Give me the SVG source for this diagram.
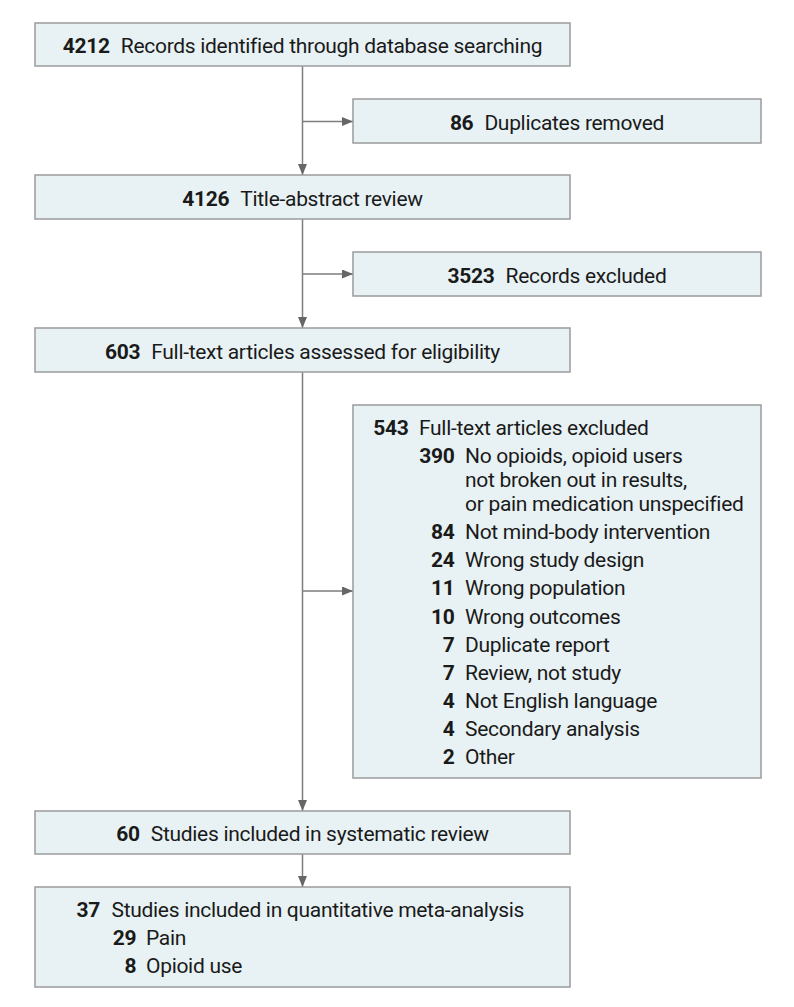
<svg xmlns="http://www.w3.org/2000/svg" width="794" height="1007" viewBox="0 0 794 1007">
<defs>
<style>
.box{fill:#e8f2f4;stroke:#9b9b9b;stroke-width:1.5}
.t{font-family:Roboto,"Liberation Sans",sans-serif;font-size:21px;letter-spacing:-0.3px;fill:#1a1a1a}
.b{font-weight:bold}
.c{stroke:#7d7d7d;stroke-width:1.5;fill:none;marker-end:url(#ah)}
</style>
<marker id="ah" markerUnits="userSpaceOnUse" markerWidth="12" markerHeight="10" refX="11" refY="4.5" orient="auto">
<path d="M0,0 L11,4.5 L0,9 z" fill="#666"/>
</marker>
</defs>
<rect width="794" height="1007" fill="#fff"/>
<g id="connectors">
<path class="c" d="M302.5,66 V175"/>
<path class="c" d="M302.5,121.5 H353"/>
<path class="c" d="M302.5,219 V328"/>
<path class="c" d="M302.5,274 H353"/>
<path class="c" d="M302.5,372 V811"/>
<path class="c" d="M302.5,591 H353"/>
<path class="c" d="M302.5,854 V887"/>
</g>
<g id="n1">
<rect class="box" x="35" y="23" width="535" height="43"/>
<text class="t" x="302.5" y="53" text-anchor="middle"><tspan class="b">4212</tspan><tspan dx="11">Records identified through database searching</tspan></text>
</g>
<g id="n2">
<rect class="box" x="353" y="99" width="408" height="44"/>
<text class="t" x="557" y="129.5" text-anchor="middle"><tspan class="b">86</tspan><tspan dx="11">Duplicates removed</tspan></text>
</g>
<g id="n3">
<rect class="box" x="35" y="175" width="535" height="44"/>
<text class="t" x="302.5" y="205.5" text-anchor="middle"><tspan class="b">4126</tspan><tspan dx="11">Title-abstract review</tspan></text>
</g>
<g id="n4">
<rect class="box" x="353" y="252" width="408" height="44"/>
<text class="t" x="557" y="282.5" text-anchor="middle"><tspan class="b">3523</tspan><tspan dx="11">Records excluded</tspan></text>
</g>
<g id="n5">
<rect class="box" x="35" y="328" width="535" height="44"/>
<text class="t" x="302.5" y="358.5" text-anchor="middle"><tspan class="b">603</tspan><tspan dx="11">Full-text articles assessed for eligibility</tspan></text>
</g>
<g id="n6">
<rect class="box" x="353" y="405" width="408" height="373"/>
<text class="t b" x="408.5" y="434.5" text-anchor="end">543</text>
<text class="t" x="419" y="434.5">Full-text articles excluded</text>
<text class="t b" x="454.5" y="462.5" text-anchor="end">390</text>
<text class="t" x="465" y="462.5">No opioids, opioid users</text>
<text class="t" x="465" y="486.7">not broken out in results,</text>
<text class="t" x="465" y="511">or pain medication unspecified</text>
<text class="t b" x="454.5" y="539" text-anchor="end">84</text>
<text class="t" x="465" y="539">Not mind-body intervention</text>
<text class="t b" x="454.5" y="567" text-anchor="end">24</text>
<text class="t" x="465" y="567">Wrong study design</text>
<text class="t b" x="454.5" y="595.3" text-anchor="end">11</text>
<text class="t" x="465" y="595.3">Wrong population</text>
<text class="t b" x="454.5" y="623.5" text-anchor="end">10</text>
<text class="t" x="465" y="623.5">Wrong outcomes</text>
<text class="t b" x="454.5" y="651.5" text-anchor="end">7</text>
<text class="t" x="465" y="651.5">Duplicate report</text>
<text class="t b" x="454.5" y="679.7" text-anchor="end">7</text>
<text class="t" x="465" y="679.7">Review, not study</text>
<text class="t b" x="454.5" y="708" text-anchor="end">4</text>
<text class="t" x="465" y="708">Not English language</text>
<text class="t b" x="454.5" y="736" text-anchor="end">4</text>
<text class="t" x="465" y="736">Secondary analysis</text>
<text class="t b" x="454.5" y="764" text-anchor="end">2</text>
<text class="t" x="465" y="764">Other</text>
</g>
<g id="n7">
<rect class="box" x="35" y="811" width="535" height="43"/>
<text class="t" x="302.5" y="841" text-anchor="middle"><tspan class="b">60</tspan><tspan dx="11">Studies included in systematic review</tspan></text>
</g>
<g id="n8">
<rect class="box" x="35" y="887" width="535" height="100"/>
<text class="t b" x="100" y="917" text-anchor="end">37</text>
<text class="t" x="111.5" y="917">Studies included in quantitative meta-analysis</text>
<text class="t b" x="136.3" y="945" text-anchor="end">29</text>
<text class="t" x="146" y="945">Pain</text>
<text class="t b" x="136.3" y="973" text-anchor="end">8</text>
<text class="t" x="146" y="973">Opioid use</text>
</g>
</svg>
